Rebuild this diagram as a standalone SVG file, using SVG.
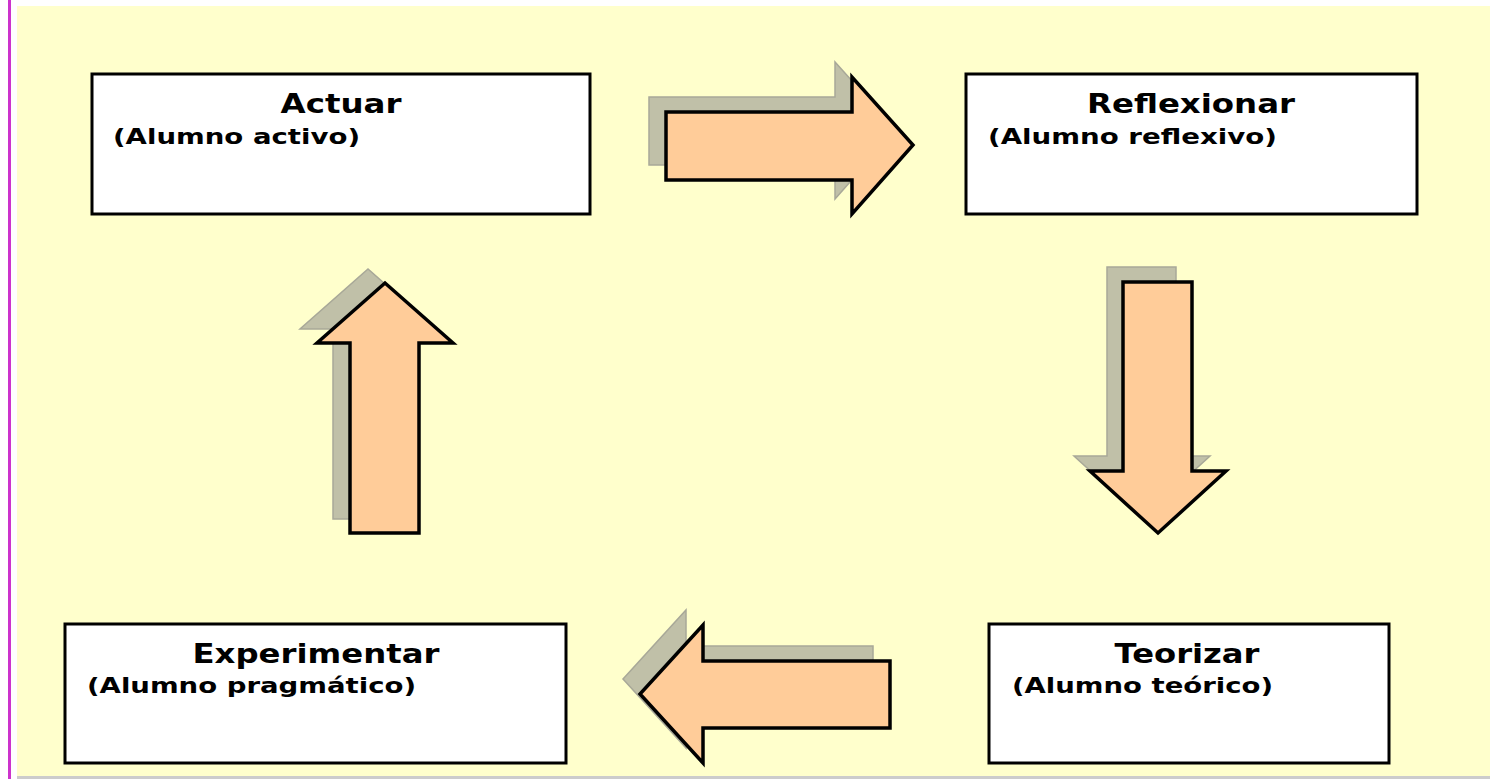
<svg xmlns="http://www.w3.org/2000/svg" width="1490" height="779" viewBox="0 0 1490 779">
<style>
.box{fill:#FFFFFF;stroke:#000000;stroke-width:3}
.arrow{fill:#FFCC99;stroke:#000000;stroke-width:3.5;stroke-linejoin:miter}
.shadow{fill:#C0C0A8;stroke:#A8A898;stroke-width:1.5}
.title{font-family:"DejaVu Sans","Liberation Sans",sans-serif;font-weight:bold;font-size:26px;fill:#000000;text-anchor:middle}
.sub{font-family:"DejaVu Sans","Liberation Sans",sans-serif;font-weight:bold;font-size:22px;fill:#000000}
</style>
<rect x="0" y="0" width="1490" height="779" fill="#FFFFFF"/>
<rect x="17" y="6" width="1473" height="770" fill="#FFFFCC"/>
<rect x="17" y="776" width="1473" height="3" fill="#CCCCCC"/>
<rect x="8" y="0" width="3" height="779" fill="#CC33CC"/>
<g id="connectors">
<g id="arrow-right">
<polygon class="shadow" points="649,97 835,97 835,62 896,130 835,199 835,165 649,165"/>
<polygon class="arrow" points="666,112 852,112 852,77 913,145 852,214 852,180 666,180"/>
</g>
<g id="arrow-down">
<polygon class="shadow" points="1107,267 1176,267 1176,456 1210,456 1142,518 1074,456 1107,456"/>
<polygon class="arrow" points="1123,282 1192,282 1192,471 1226,471 1158,533 1090,471 1123,471"/>
</g>
<g id="arrow-left">
<polygon class="shadow" points="873,646 686,646 686,610 623,679 686,748 686,713 873,713"/>
<polygon class="arrow" points="890,661 703,661 703,625 640,694 703,763 703,728 890,728"/>
</g>
<g id="arrow-up">
<polygon class="shadow" points="333,519 402,519 402,329 436,329 368,269 300,329 333,329"/>
<polygon class="arrow" points="350,533 419,533 419,343 453,343 385,283 317,343 350,343"/>
</g>
</g>
<g id="actuar">
<rect class="box" x="92" y="74" width="498" height="140"/>
<text class="title" x="341" y="113" textLength="121" lengthAdjust="spacingAndGlyphs">Actuar</text>
<text class="sub" x="113" y="144" textLength="247" lengthAdjust="spacingAndGlyphs">(Alumno activo)</text>
</g>
<g id="reflexionar">
<rect class="box" x="966" y="74" width="451" height="140"/>
<text class="title" x="1191" y="113" textLength="208" lengthAdjust="spacingAndGlyphs">Reflexionar</text>
<text class="sub" x="988" y="144" textLength="289" lengthAdjust="spacingAndGlyphs">(Alumno reflexivo)</text>
</g>
<g id="experimentar">
<rect class="box" x="65" y="624" width="501" height="139"/>
<text class="title" x="316" y="663" textLength="247" lengthAdjust="spacingAndGlyphs">Experimentar</text>
<text class="sub" x="87" y="693" textLength="329" lengthAdjust="spacingAndGlyphs">(Alumno pragmático)</text>
</g>
<g id="teorizar">
<rect class="box" x="989" y="624" width="400" height="139"/>
<text class="title" x="1187" y="663" textLength="145" lengthAdjust="spacingAndGlyphs">Teorizar</text>
<text class="sub" x="1012" y="693" textLength="261" lengthAdjust="spacingAndGlyphs">(Alumno teórico)</text>
</g>
</svg>
